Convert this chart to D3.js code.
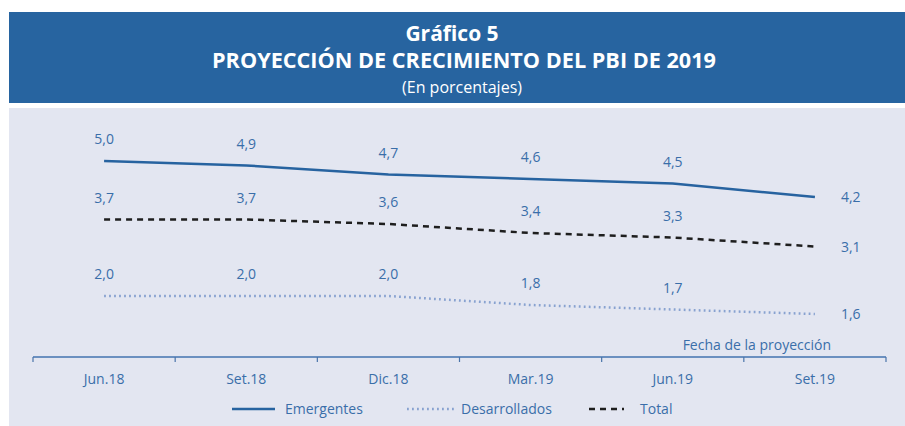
<!DOCTYPE html>
<html>
<head>
<meta charset="utf-8">
<script src="https://cdn.jsdelivr.net/npm/d3@7"></script>
<style>
  body { margin:0; background:#fff; }
  svg text { font-family:"Open Sans", "Noto Sans", sans-serif; }
</style>
</head>
<body>
<div id="plot"></div>
<script>
// data
var fechas = ['Jun.18','Set.18','Dic.18','Mar.19','Jun.19','Set.19'];
var emergentes = [5.0, 4.9, 4.7, 4.6, 4.5, 4.2];
var desarrollados = [2.0, 2.0, 2.0, 1.8, 1.7, 1.6];
var total = [3.7, 3.7, 3.6, 3.4, 3.3, 3.1];
var serieNombres = ['Emergentes','Desarrollados','Total'];

var W = 905, H = 426;
var azul = '#2763a0', txt = '#3a6ea9';

var svg = d3.select('#plot').append('svg')
  .attr('width', W).attr('height', H);

// header box
svg.append('rect').attr('x',9).attr('y',12).attr('width',W-9).attr('height',91)
  .style('fill','#2764a0');
svg.append('text').attr('x',452).attr('y',41).attr('text-anchor','middle')
  .style('fill','#fff').style('font-size','21px').style('font-weight','bold')
  .text('Gráfico 5');
svg.append('text').attr('x',464).attr('y',68).attr('text-anchor','middle')
  .attr('textLength',504).attr('lengthAdjust','spacingAndGlyphs')
  .style('fill','#fff').style('font-size','21.5px').style('font-weight','bold')
  .text('PROYECCIÓN DE CRECIMIENTO DEL PBI DE 2019');
svg.append('text').attr('x',462).attr('y',93).attr('text-anchor','middle')
  .style('fill','#fff').style('font-size','16px')
  .text('(En porcentajes)');

// panel
svg.append('rect').attr('x',9).attr('y',108).attr('width',W-9).attr('height',H-108)
  .style('fill','#e3e6f1');

// scales
var x = d3.scaleBand().domain(fechas).range([33, 886]);
var y = d3.scaleLinear().domain([0, 6]).range([386, 116]);
var cx = function(d,i){ return x(fechas[i]) + x.bandwidth()/2; };

// axis
var axisY = 357;
var g = svg.append('g');
g.append('line').attr('x1', x.range()[0]).attr('x2', x.range()[1])
  .attr('y1', axisY).attr('y2', axisY)
  .style('stroke','#6b90c0').style('stroke-width',2);
var cortes = fechas.map(function(f){ return x(f); }).concat([x.range()[1]]);
g.selectAll('.tick').data(cortes).enter().append('line')
  .attr('x1', function(d){ return d; }).attr('x2', function(d){ return d; })
  .attr('y1', axisY).attr('y2', axisY+5)
  .style('stroke','#4a74aa').style('stroke-width',1.2);
g.selectAll('.cat').data(fechas).enter().append('text')
  .attr('x', function(d){ return x(d) + x.bandwidth()/2; })
  .attr('y', 384).attr('text-anchor','middle')
  .style('fill',txt).style('font-size','14px')
  .text(function(d){ return d; });
svg.append('text').attr('x',831).attr('y',350).attr('text-anchor','end')
  .style('fill',txt).style('font-size','14px')
  .text('Fecha de la proyección');

// series
var series = [
  {name:serieNombres[0], values:emergentes, color:azul, width:2.5, dash:null},
  {name:serieNombres[1], values:desarrollados, color:'#88a2d0', width:2.5, dash:'1.8,3.2'},
  {name:serieNombres[2], values:total, color:'#1e1e1e', width:2.5, dash:'6,5'}
];

var line = d3.line()
  .x(function(d,i){ return cx(d,i); })
  .y(function(d){ return y(d); });

series.forEach(function(s){
  svg.append('path').datum(s.values)
    .attr('d', line)
    .style('fill','none')
    .style('stroke', s.color)
    .style('stroke-width', s.width)
    .style('stroke-dasharray', s.dash);

  var n = s.values.length;
  svg.selectAll(null).data(s.values).enter().append('text')
    .attr('x', function(d,i){ return i < n-1 ? cx(d,i) : cx(d,i) + 26; })
    .attr('y', function(d,i){ return i < n-1 ? y(d) - 17 : y(d) + 5; })
    .attr('text-anchor', function(d,i){ return i < n-1 ? 'middle' : 'start'; })
    .style('fill', txt).style('font-size','14px')
    .text(function(d){ return d3.format('.1f')(d).replace('.', ','); });
});

// legend
var leg = [
  {s:series[0], x1:232, x2:275, tx:285},
  {s:series[1], x1:407, x2:455, tx:461},
  {s:series[2], x1:589, x2:624, tx:640}
];
leg.forEach(function(l){
  svg.append('line').attr('x1',l.x1).attr('x2',l.x2).attr('y1',409).attr('y2',409)
    .style('stroke', l.s.color).style('stroke-width', l.s.width)
    .style('stroke-dasharray', l.s.dash);
  svg.append('text').attr('x', l.tx).attr('y', 414)
    .style('fill', txt).style('font-size','14px')
    .text(l.s.name);
});
</script>
</body>
</html>
